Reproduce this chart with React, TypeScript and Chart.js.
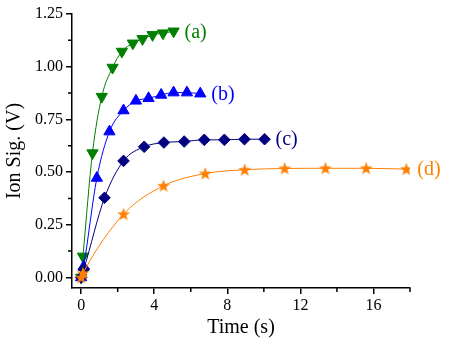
import React, { useEffect, useRef } from "react";
import { Chart, registerables } from "chart.js";

Chart.register(...registerables);

// (a) green down-triangles
const timeA = [0, 0.1, 0.62, 1.13, 1.72, 2.23, 2.83, 3.36, 3.91, 4.48, 5.06];
const sigA = [0, 0.1, 0.59, 0.858, 0.996, 1.072, 1.111, 1.132, 1.151, 1.159, 1.168];
// (b) blue up-triangles
const timeB = [0, 0.13, 0.86, 1.55, 2.32, 3.0, 3.69, 4.38, 5.06, 5.79, 6.52];
const sigB = [0, 0.05, 0.472, 0.692, 0.792, 0.838, 0.85, 0.866, 0.877, 0.877, 0.872];
// (c) navy diamonds
const timeC = [0, 0.15, 1.28, 2.32, 3.45, 4.53, 5.64, 6.74, 7.84, 8.94, 10.04];
const sigC = [0, 0.04, 0.378, 0.553, 0.62, 0.64, 0.645, 0.653, 0.653, 0.656, 0.656];
// (d) orange stars
const timeD = [0, 0.1, 2.32, 4.51, 6.79, 8.95, 11.14, 13.37, 15.6, 17.8];
const sigD = [0, 0.02, 0.3, 0.435, 0.493, 0.511, 0.517, 0.518, 0.518, 0.514];

const seriesLabels = ["(d)", "(c)", "(b)", "(a)"];
const xTicks = [0, 4, 8, 12, 16];
const xMinorTicks = [2, 6, 10, 14, 18];
const yTicks = [0, 0.25, 0.5, 0.75, 1.0, 1.25];
const yMinorTicks = [0.125, 0.375, 0.625, 0.875, 1.125];

const GREEN = "#008000";
const BLUE = "#0000ff";
const NAVY = "#000080";
const ORANGE = "#ff8000";
const SERIF = "'Liberation Serif', 'Times New Roman', serif";

function makeStar(color: string): HTMLCanvasElement {
  const c = document.createElement("canvas");
  c.width = 14;
  c.height = 14;
  const ctx = c.getContext("2d")!;
  const cx = 7, cy = 7.4, R = 6.8, r = 2.8;
  ctx.beginPath();
  for (let i = 0; i < 10; i++) {
    const rad = (Math.PI / 5) * i - Math.PI / 2;
    const rr = i % 2 === 0 ? R : r;
    const px = cx + Math.cos(rad) * rr;
    const py = cy + Math.sin(rad) * rr;
    if (i === 0) ctx.moveTo(px, py);
    else ctx.lineTo(px, py);
  }
  ctx.closePath();
  ctx.fillStyle = color;
  ctx.fill();
  return c;
}

const pts = (xs: number[], ys: number[]) => xs.map((x, i) => ({ x, y: ys[i] }));

export default function App() {
  const ref = useRef<HTMLCanvasElement | null>(null);

  useEffect(() => {
    if (!ref.current) return;
    const star = makeStar(ORANGE);
    const labelColors = [ORANGE, NAVY, BLUE, GREEN];

    const minorTicks = {
      id: "minorTicks",
      afterDraw(chart: any) {
        const ctx = chart.ctx;
        const xs = chart.scales.x;
        const ys = chart.scales.y;
        const area = chart.chartArea;
        ctx.save();
        ctx.strokeStyle = "#000";
        ctx.lineWidth = 1.5;
        ctx.beginPath();
        xMinorTicks.forEach((v) => {
          const px = xs.getPixelForValue(v);
          ctx.moveTo(px, area.bottom);
          ctx.lineTo(px, area.bottom + 4);
        });
        yMinorTicks.forEach((v) => {
          const py = ys.getPixelForValue(v);
          ctx.moveTo(area.left, py);
          ctx.lineTo(area.left - 4, py);
        });
        ctx.stroke();
        ctx.restore();
      },
    };

    const seriesText = {
      id: "seriesText",
      afterDatasetsDraw(chart: any) {
        const ctx = chart.ctx;
        ctx.save();
        ctx.font = `20px ${SERIF}`;
        ctx.textBaseline = "middle";
        ctx.textAlign = "left";
        chart.data.datasets.forEach((_: any, i: number) => {
          const meta = chart.getDatasetMeta(i);
          const last = meta.data[meta.data.length - 1];
          ctx.fillStyle = labelColors[i];
          ctx.fillText(seriesLabels[i], last.x + 11, last.y + 1);
        });
        ctx.restore();
      },
    };

    const common = {
      borderWidth: 1,
      cubicInterpolationMode: "monotone" as const,
      pointBorderWidth: 1,
    };

    const chart = new Chart(ref.current, {
      type: "line",
      data: {
        datasets: [
          {
            ...common,
            data: pts(timeD, sigD),
            borderColor: ORANGE,
            backgroundColor: ORANGE,
            pointStyle: star as any,
            pointRadius: 6,
          },
          {
            ...common,
            data: pts(timeC, sigC),
            borderColor: NAVY,
            backgroundColor: NAVY,
            pointBorderColor: NAVY,
            pointBackgroundColor: NAVY,
            pointStyle: "rectRot",
            pointRadius: 5.8,
          },
          {
            ...common,
            data: pts(timeB, sigB),
            borderColor: BLUE,
            backgroundColor: BLUE,
            pointBorderColor: BLUE,
            pointBackgroundColor: BLUE,
            pointStyle: "triangle",
            pointRadius: 6.5,
          },
          {
            ...common,
            data: pts(timeA, sigA),
            borderColor: GREEN,
            backgroundColor: GREEN,
            pointBorderColor: GREEN,
            pointBackgroundColor: GREEN,
            pointStyle: "triangle",
            pointRotation: 180,
            pointRadius: 6.5,
          },
        ],
      },
      options: {
        animation: false,
        responsive: false,
        events: [],
        layout: { padding: { top: 14, right: 40, left: 0, bottom: 0 } },
        plugins: { legend: { display: false }, tooltip: { enabled: false } },
        scales: {
          x: {
            type: "linear",
            min: -0.5,
            max: 18,
            afterBuildTicks: (s: any) => {
              s.ticks = xTicks.map((v) => ({ value: v }));
            },
            afterFit: (s: any) => {
              s.height = 57;
            },
            ticks: {
              color: "#000",
              font: { family: SERIF, size: 16 },
              padding: 2,
              maxRotation: 0,
              autoSkip: false,
              callback: (v: any) => String(v),
            },
            grid: { drawOnChartArea: false, tickLength: 6, color: "#000", lineWidth: 1.5 },
            border: { color: "#000", width: 1.5 },
            title: {
              display: true,
              text: "Time (s)",
              color: "#000",
              font: { family: SERIF, size: 20 },
              padding: { top: 0, bottom: 5 },
            },
          },
          y: {
            type: "linear",
            min: -0.05,
            max: 1.25,
            afterBuildTicks: (s: any) => {
              s.ticks = yTicks.map((v) => ({ value: v }));
            },
            afterFit: (s: any) => {
              s.width = 72;
            },
            ticks: {
              color: "#000",
              font: { family: SERIF, size: 16 },
              padding: 3,
              autoSkip: false,
              callback: (v: any) => Number(v).toFixed(2),
            },
            grid: { drawOnChartArea: false, tickLength: 6, color: "#000", lineWidth: 1.5 },
            border: { color: "#000", width: 1.5 },
            title: {
              display: true,
              text: "Ion Sig. (V)",
              color: "#000",
              font: { family: SERIF, size: 20 },
              padding: { top: 3, bottom: 0 },
            },
          },
        },
      },
      plugins: [minorTicks, seriesText],
    });
    return () => chart.destroy();
  }, []);

  return (
    <canvas
      ref={ref}
      width={450}
      height={345}
      style={{ position: "absolute", left: 0, top: 0, display: "block" }}
    />
  );
}
